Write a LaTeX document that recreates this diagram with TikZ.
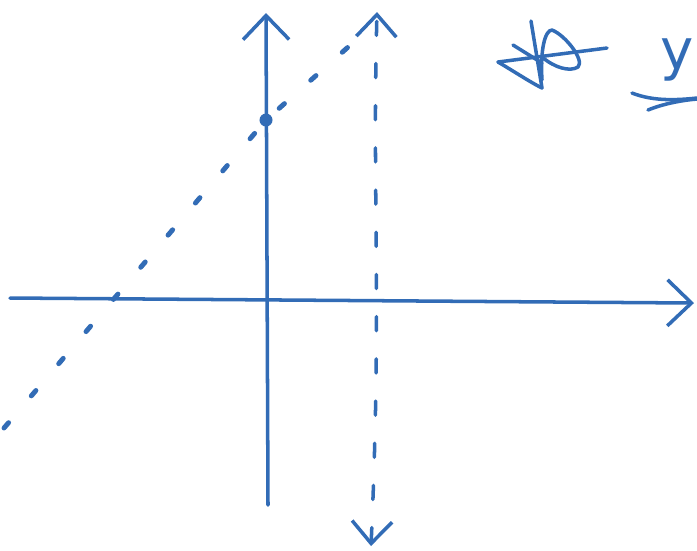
\documentclass[tikz,border=0pt]{standalone}
\usepackage{tikz}
\usetikzlibrary{arrows.meta, positioning}
\usepackage{fontspec}
\setsansfont{DejaVu Sans}
\definecolor{InkBlue}{RGB}{50, 108, 182}

\begin{document}
\begin{tikzpicture}[
        x=0.01cm, y=-0.01cm,
        ink/.style={draw=InkBlue, line width=1pt, line cap=round, line join=round},
        axisline/.style={ink, -{Straight Barb[length=0.24cm, width=0.46cm, line width=1pt]}},
        slopeline/.style={ink, line width=1.4pt, dash pattern=on 2pt off 10pt},
        guideline/.style={ink, dash pattern=on 4pt off 8pt, {Straight Barb[length=0.22cm, width=0.40cm, line width=1pt]}-{Straight Barb[length=0.22cm, width=0.40cm, line width=1pt]}},
        dotmark/.style={circle, fill=InkBlue, inner sep=0pt, minimum size=0.13cm},
        handtext/.style={text=InkBlue, font=\sffamily\fontsize{16}{16}\selectfont, inner sep=0pt}
      ]
        \useasboundingbox (0,0) rectangle (697,550);

        % Axes
        \coordinate (xstart) at (10,298);
        \coordinate (xend) at (694,303);
        \coordinate (ystart) at (268,505);
        \coordinate (yend) at (266,13);
        \draw[axisline] (xstart) -- (xend);
        \draw[axisline] (ystart) -- (yend);

        % Intercept point
        \node[dotmark] (icept) at (266,120) {};

        % Dotted slope line
        \coordinate (slopestart) at (4,428);
        \coordinate (slopeend) at (356,40);
        \draw[slopeline] (slopestart) -- (icept.center) -- (slopeend);

        % Dashed vertical guide
        \coordinate (guidetop) at (377,12);
        \coordinate (guidebot) at (371,546);
        \draw[guideline] (guidebot) .. controls (382,300) and (372,200) .. (guidetop);

        % Crossed-out scribble
        \draw[ink] (531,21) -- (542,88);
        \draw[ink] (498,62) -- (607,48);
        \draw[ink] (513,45) -- (542,63);
        \draw[ink] (498,62) .. controls (515,72) and (530,82) .. (542,88);
        \draw[ink] (542,80) .. controls (540,50) and (545,30) .. (552,30)
                   .. controls (565,35) and (585,60) .. (578,67)
                   .. controls (570,72) and (555,68) .. (542,57);

        % Label on the right
        \node[handtext, anchor=west] (ylabel) at (660,60) {y};
        \draw[ink] (632,93) .. controls (650,100) and (670,101) .. (697,98);
        \draw[ink] (648,110) .. controls (665,103) and (685,100) .. (697,99);
      \end{tikzpicture}
\end{document}
